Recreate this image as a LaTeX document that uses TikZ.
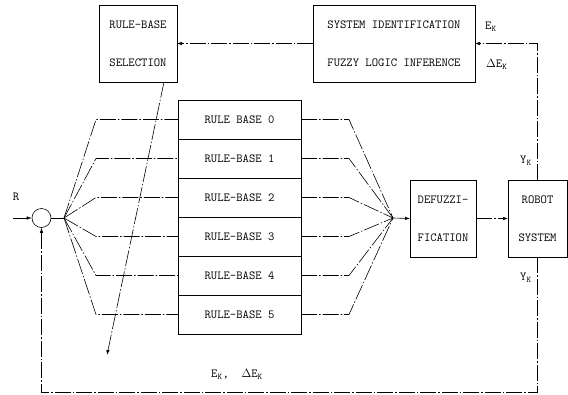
\documentclass[tikz,border=0pt]{standalone}
\usepackage{tikz}
\usetikzlibrary{arrows.meta,positioning,calc}
\newcommand{\boxfont}{\fontsize{12.3}{38}\selectfont\ttfamily}
\newcommand{\labfont}{\fontsize{12.3}{14}\selectfont\ttfamily}
\tikzset{
	box/.style={draw, line width=0.6pt, align=center, inner sep=0pt, outer sep=0pt, font=\boxfont},
	link/.style={line width=0.6pt, dash pattern=on 16pt off 2pt on 1.5pt off 2pt},
	arrow/.style={link, -{Latex[length=5pt,width=3.5pt]}},
	tinylabel/.style={font=\labfont, inner sep=0pt}
}
\begin{document}
\begin{tikzpicture}[
	x=1pt, y=-1pt,
	bigbox/.style={box, minimum height=77pt},
	rulebox/.style={box, minimum width=123pt, minimum height=39pt},
	]
	\useasboundingbox (0,0) rectangle (568,394);
	
	%% ── Top row ──────────────────────────────────────────────────────
	\node[bigbox, minimum width=78pt] (sel) at (138,43.5)
	{RULE-BASE\\SELECTION};
	\node[bigbox, minimum width=162pt] (sysid) at (394,43.5)
	{SYSTEM IDENTIFICATION\\FUZZY LOGIC INFERENCE};
	
	%% ── Summing junction ─────────────────────────────────────────────
	\node[draw, circle, line width=0.6pt, minimum size=19pt, inner sep=0pt] (sum) at (41.5,218) {};
	\coordinate (rin) at (13,218);
	\node[tinylabel] (rlab) at (16,197) {R};
	
	%% ── Rule-base stack ──────────────────────────────────────────────
	\node[rulebox] (rb0) at (239.5,119.5) {RULE BASE 0};
	\foreach \i [evaluate=\i as \p using int(\i-1)] in {1,...,5}
	\node[rulebox, below=0pt of rb\p] (rb\i) {RULE-BASE \i};
	
	\coordinate (fanL) at (64,218);
	\coordinate (fanR) at (393,218);
	
	%% ── Defuzzification and plant ────────────────────────────────────
	\node[bigbox, minimum width=66pt] (defuzz) at (443,218.5)
	{DEFUZZI-\\FICATION};
	\node[bigbox, minimum width=59pt] (robot) at (537.5,218.5)
	{ROBOT\\SYSTEM};
	
	%% ── Fan lines ────────────────────────────────────────────────────
	\foreach \i in {0,...,5} {
		\draw[link] (fanL) -- ([xshift=-82pt]rb\i.west) -- (rb\i.west);
		\draw[link] (rb\i.east) -- ([xshift=48pt]rb\i.east) -- (fanR);
	}
	
	%% ── Signal flow ──────────────────────────────────────────────────
	\draw[arrow] (rin) -- (sum.west);
	\draw[link] (sum.east) -- (fanL);
	\draw[arrow] (fanR) -- (defuzz.west);
	\draw[arrow] (defuzz.east) -- (robot.west);
	\draw[arrow] (robot.north) |- (sysid.east);
	\draw[arrow] (sysid.west) -- (sel.east);
	
	% feedback to the junction
	\coordinate (fbk) at (537.5,392);
	\draw[arrow] (robot.south) -- (fbk) -| (sum.south);
	
	% selector arrow across the fan
	\coordinate (selend) at (107,355);
	\draw[arrow] ([xshift=26pt]sel.south) -- (selend);
	
	%% ── Signal labels ────────────────────────────────────────────────
	\node[tinylabel, anchor=west] (ek) at (485,27) {E\textsubscript{K}};
	\node[tinylabel, anchor=west] (dek) at (486,64) {$\Delta$E\textsubscript{K}};
	\node[tinylabel, anchor=west] (yk1) at (520,161) {Y\textsubscript{K}};
	\node[tinylabel, anchor=west] (yk2) at (520,278) {Y\textsubscript{K}};
	\node[tinylabel] (fblab) at (237,374) {E\textsubscript{K},\ \ $\Delta$E\textsubscript{K}};
\end{tikzpicture}
\end{document}
